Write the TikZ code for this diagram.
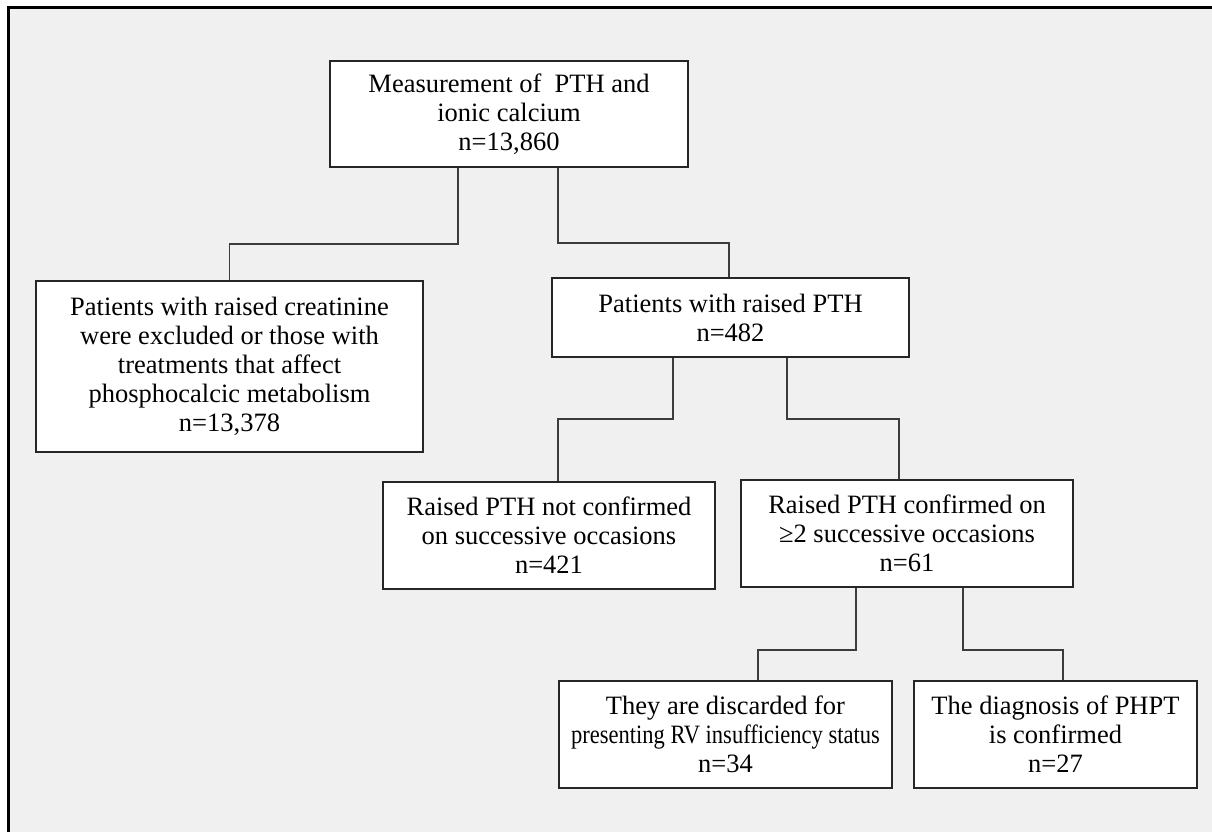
\documentclass[tikz,border=0pt]{standalone}
\usepackage{fontspec}
\setmainfont{Liberation Serif}
\definecolor{panelgray}{RGB}{240,240,240}
\definecolor{linegray}{RGB}{60,60,60}

\begin{document}
\begin{tikzpicture}[x=1pt, y=-1pt,
    box/.style={draw=black!85, fill=white, line width=1.8pt, align=center,
        inner sep=0pt, font=\fontsize{26.5}{29}\selectfont},
    link/.style={draw=linegray, line width=1.8pt}]
    \clip (0,0) rectangle (1212,832);
    \fill[white] (0,0) rectangle (1212,832);
    \draw[line width=3pt, fill=panelgray] (8,8) rectangle (1240,860);

    \node[box, minimum width=358pt, minimum height=106pt] (meas) at (509,114)
        {Measurement of~ PTH and\\ ionic calcium\\ n=13,860};
    \node[box, minimum width=387pt, minimum height=171pt] (excl) at (229.5,366.5)
        {Patients with raised creatinine\\ were excluded or those with\\ treatments that affect\\ phosphocalcic metabolism\\ n=13,378};
    \node[box, minimum width=357pt, minimum height=79pt] (raised) at (730.5,317.5)
        {Patients with raised PTH\\ n=482};
    \node[box, minimum width=332pt, minimum height=107pt] (notconf) at (549,535.5)
        {Raised PTH not confirmed\\ on successive occasions\\ n=421};
    \node[box, minimum width=332pt, minimum height=107pt] (conf) at (907,533.5)
        {Raised PTH confirmed on\\ ≥2 successive occasions\\ n=61};
    \node[box, minimum width=333pt, minimum height=107pt] (disc) at (725.5,734.5)
        {They are discarded for\\ \scalebox{0.85}[1]{presenting RV insufficiency status}\\ n=34};
    \node[box, minimum width=283pt, minimum height=107pt] (phpt) at (1055.5,734.5)
        {The diagnosis of PHPT\\ is confirmed\\ n=27};

    \draw[link] ([xshift=-51pt]meas.south) -- ++(0,76) -| (excl.north);
    \draw[link] ([xshift=49pt]meas.south) -- ++(0,75) -| ([xshift=-1.5pt]raised.north);
    \draw[link] ([xshift=-57.5pt]raised.south) -- ++(0,61) -| ([xshift=9pt]notconf.north);
    \draw[link] ([xshift=56.5pt]raised.south) -- ++(0,61) -| ([xshift=-8pt]conf.north);
    \draw[link] ([xshift=-51pt]conf.south) -- ++(0,62) -| ([xshift=32.5pt]disc.north);
    \draw[link] ([xshift=56pt]conf.south) -- ++(0,62) -| ([xshift=7.5pt]phpt.north);
\end{tikzpicture}
\end{document}
